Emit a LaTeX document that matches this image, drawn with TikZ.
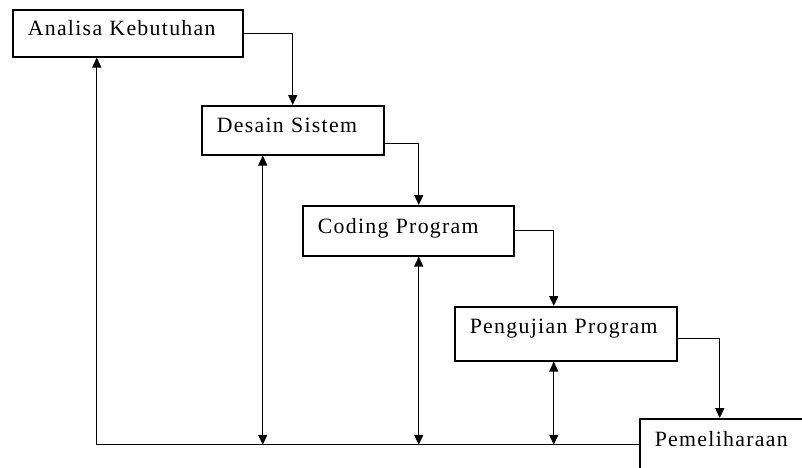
\documentclass[tikz,border=0pt]{standalone}
\usepackage{fontspec}
\setmainfont{Liberation Serif}[LetterSpace=6]
\usetikzlibrary{arrows.meta}

\begin{document}
\begin{tikzpicture}[x=1pt, y=-1pt,
  tahap/.style={draw, line width=1.5pt, anchor=north west, align=left,
    inner xsep=15pt, inner ysep=0pt, font=\fontsize{21.8}{24}\selectfont},
  alur/.style={line width=1.4pt, -{Triangle[length=10pt,width=9pt]}},
  balik/.style={line width=1.4pt, {Triangle[length=10pt,width=9pt]}-{Triangle[length=10pt,width=9pt]}}]

  % Fix the picture size
  \useasboundingbox (0,0) rectangle (802,467);

  % Draw the stages
  \node[tahap, text width=200pt, text height=26pt, text depth=21pt] (ana) at (12,9) {Analisa Kebutuhan};
  \node[tahap, text width=152pt, text height=27pt, text depth=22pt] (des) at (201,105) {Desain Sistem};
  \node[tahap, text width=181pt, text height=28pt, text depth=22pt] (cod) at (302,205) {Coding Program};
  \node[tahap, text width=192pt, text height=27pt, text depth=27pt] (uji) at (454,306) {Pengujian Program};
  \node[tahap, text width=150pt, text height=28pt, text depth=24pt] (pem) at (639,418) {Pemeliharaan};

  % Draw the flow down the steps
  \draw[alur] (ana.east) -| (des.north);
  \draw[alur] ([yshift=-13.5pt]des.east) -| ([xshift=10.5pt]cod.north);
  \draw[alur] (cod.east) -| ([xshift=-12pt]uji.north);
  \draw[alur] ([yshift=-5pt]uji.east) -| ([xshift=-10pt]pem.north);

  % Draw the way back
  \draw[alur] (pem.west) -| ([xshift=-31pt]ana.south);
  \draw[balik] ([xshift=-30pt]des.south) -- ([xshift=-30pt]des.south |- pem.west);
  \draw[balik] ([xshift=10.5pt]cod.south) -- ([xshift=10.5pt]cod.south |- pem.west);
  \draw[balik] ([xshift=-12pt]uji.south) -- ([xshift=-12pt]uji.south |- pem.west);

\end{tikzpicture}
\end{document}
